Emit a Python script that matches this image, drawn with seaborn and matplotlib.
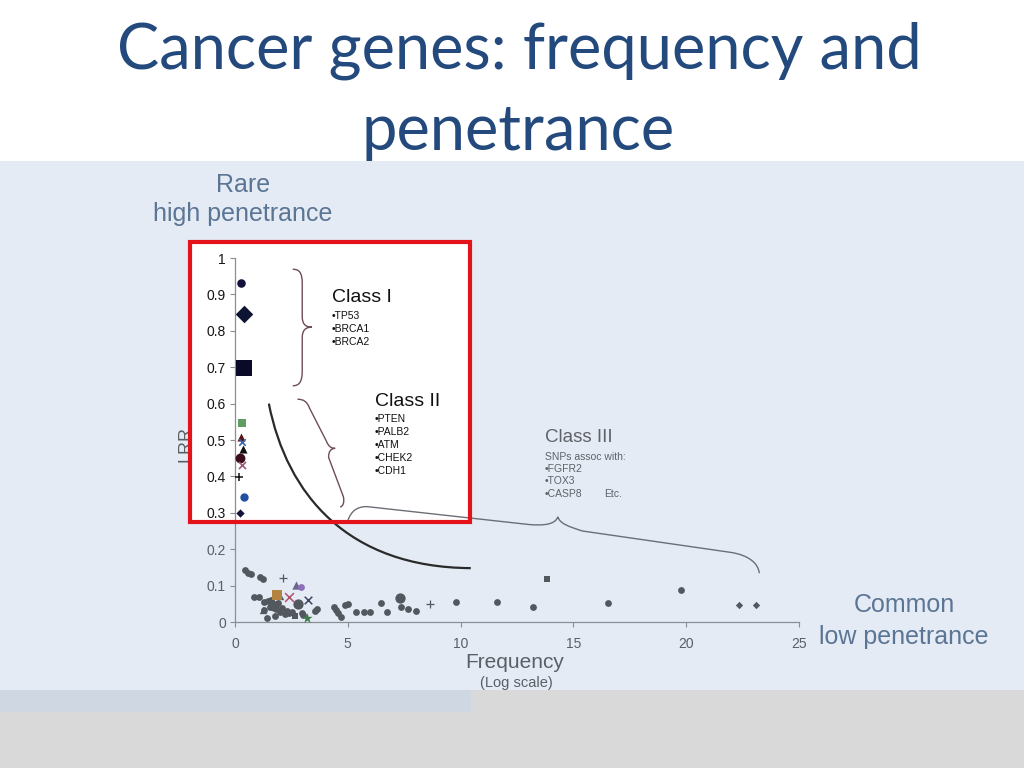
import numpy as np
import pandas as pd
import matplotlib
matplotlib.use('Agg')
import matplotlib.pyplot as plt
import seaborn as sns
from matplotlib.patches import Rectangle, PathPatch
from matplotlib.path import Path

sns.set_style("ticks")
plt.rcParams['font.family'] = ['Liberation Sans', 'DejaVu Sans']

# rare, high penetrance genes (frequency, LRR, marker kind)
rare_freq = [0.27, 0.41, 0.41, 0.30, 0.27, 0.33, 0.35, 0.24, 0.30, 0.18, 0.40, 0.22]
rare_lrr = [0.930, 0.846, 0.699, 0.546, 0.509, 0.494, 0.474, 0.450, 0.431, 0.397, 0.343, 0.300]
rare_kind = ['navy_circle', 'navy_diamond', 'navy_square', 'green_square', 'red_triangle',
             'blue_x', 'black_triangle', 'maroon_circle', 'mauve_x', 'black_plus',
             'blue_circle', 'navy_small_diamond']

# common, low penetrance SNPs
common_freq = [0.44, 0.59, 0.70, 1.11, 1.26, 0.86, 1.07, 1.27, 1.45, 1.63, 1.54, 1.27,
               1.41, 1.78, 1.99, 2.22, 2.30, 2.53, 2.95, 3.55, 3.63, 2.08, 1.90, 1.60,
               1.80, 2.40, 3.00, 4.41, 4.46, 4.55, 4.69, 4.88, 4.99, 5.36, 5.74, 6.00,
               6.48, 6.73, 7.36, 7.69, 8.02, 9.81, 11.62, 13.21, 16.54, 19.78,
               1.72, 2.78, 7.30,
               22.34, 23.08,
               13.81, 2.66,
               2.12, 8.66,
               1.26, 1.99,
               2.71, 2.92, 1.88, 2.41, 3.23, 3.21]
common_lrr = [0.143, 0.134, 0.133, 0.124, 0.117, 0.070, 0.070, 0.055, 0.057, 0.053, 0.042, 0.033,
              0.012, 0.016, 0.027, 0.021, 0.030, 0.027, 0.024, 0.030, 0.035, 0.039, 0.053, 0.060,
              0.035, 0.025, 0.020, 0.040, 0.034, 0.025, 0.015, 0.047, 0.050, 0.027, 0.027, 0.027,
              0.051, 0.027, 0.040, 0.036, 0.031, 0.056, 0.056, 0.042, 0.052, 0.087,
              0.044, 0.049, 0.065,
              0.046, 0.046,
              0.119, 0.016,
              0.122, 0.049,
              0.033, 0.071,
              0.102, 0.097, 0.074, 0.068, 0.060, 0.010]
common_kind = (['gray_circle'] * 46 + ['gray_big_circle'] * 3 + ['gray_diamond'] * 2 +
               ['gray_square'] * 2 + ['gray_plus'] * 2 + ['gray_triangle'] * 2 +
               ['purple_triangle', 'purple_circle', 'orange_square', 'red_x', 'dark_x', 'green_star'])

x_ticks = [0, 5, 10, 15, 20, 25]
y_ticks = [0, 0.1, 0.2, 0.3, 0.4, 0.5, 0.6, 0.7, 0.8, 0.9, 1.0]
y_tick_labels = ['0', '0.1', '0.2', '0.3', '0.4', '0.5', '0.6', '0.7', '0.8', '0.9', '1']

GRAY = '#53585f'
styles = {
    'navy_circle': dict(marker='o', s=38, color='#12123a', lw=0),
    'navy_diamond': dict(marker='D', s=80, color='#0d1433', lw=0),
    'navy_square': dict(marker='s', s=120, color='#0a0a28', lw=0),
    'green_square': dict(marker='s', s=30, color='#5e9e62', lw=0),
    'red_triangle': dict(marker='^', s=34, color='#5a1414', lw=0),
    'blue_x': dict(marker='x', s=22, color='#3a66a8', lw=1.2),
    'black_triangle': dict(marker='^', s=34, color='#111111', lw=0),
    'maroon_circle': dict(marker='o', s=50, color='#3a0c1c', lw=0),
    'mauve_x': dict(marker='x', s=26, color='#a05a7a', lw=1.2),
    'black_plus': dict(marker='+', s=34, color='#111111', lw=1.1),
    'blue_circle': dict(marker='o', s=36, color='#2050a0', lw=0),
    'navy_small_diamond': dict(marker='D', s=18, color='#12123a', lw=0),
    'gray_circle': dict(marker='o', s=24, color=GRAY, lw=0),
    'gray_big_circle': dict(marker='o', s=55, color=GRAY, lw=0),
    'gray_diamond': dict(marker='D', s=14, color=GRAY, lw=0),
    'gray_square': dict(marker='s', s=22, color=GRAY, lw=0),
    'gray_plus': dict(marker='+', s=40, color=GRAY, lw=0.9),
    'gray_triangle': dict(marker='^', s=28, color=GRAY, lw=0),
    'purple_triangle': dict(marker='^', s=36, color='#6f6592', lw=0),
    'purple_circle': dict(marker='o', s=24, color='#8c6fb8', lw=0),
    'orange_square': dict(marker='s', s=42, color='#b3843f', lw=0),
    'red_x': dict(marker='x', s=40, color='#b0506a', lw=1.1),
    'dark_x': dict(marker='x', s=30, color='#3d4560', lw=1.1),
    'green_star': dict(marker='*', s=60, color='#3d7a4a', lw=0),
}

W, H = 1024, 768


def fx(px):
    return px / W


def fy(py):
    return 1 - py / H


fig = plt.figure(figsize=(10.24, 7.68), dpi=100, facecolor='white')

# slide background bands
fig.add_artist(Rectangle((0, fy(690)), 1, fy(161) - fy(690), transform=fig.transFigure,
                         facecolor='#e4ebf5', edgecolor='none', zorder=-6))
fig.add_artist(Rectangle((0, 0), 1, fy(690), transform=fig.transFigure,
                         facecolor='#d9d9d9', edgecolor='none', zorder=-6))
fig.add_artist(Rectangle((0, fy(712)), fx(471), fy(690) - fy(712), transform=fig.transFigure,
                         facecolor='#cfd8e2', edgecolor='none', zorder=-5))
# highlight box fill
fig.add_artist(Rectangle((fx(190), fy(522)), fx(470) - fx(190), fy(242) - fy(522),
                         transform=fig.transFigure, facecolor='white', edgecolor='none', zorder=-4))

ax = fig.add_axes([fx(235), fy(622), fx(799) - fx(235), fy(258) - fy(622)])
ax.patch.set_visible(False)

for df in (pd.DataFrame({'freq': rare_freq, 'lrr': rare_lrr, 'kind': rare_kind}),
           pd.DataFrame({'freq': common_freq, 'lrr': common_lrr, 'kind': common_kind})):
    for kind, grp in df.groupby('kind', sort=False):
        st = styles[kind]
        sns.scatterplot(data=grp, x='freq', y='lrr', marker=st['marker'], s=st['s'],
                        color=st['color'], edgecolor=st['color'], linewidth=st['lw'],
                        ax=ax, zorder=4, clip_on=False, legend=False)

ax.set_xlim(0, 25)
ax.set_ylim(0, 1)
ax.set_xticks(x_ticks)
ax.set_xticklabels([str(t) for t in x_ticks])
ax.set_yticks(y_ticks)
ax.set_yticklabels(y_tick_labels)
ax.set_xlabel('')
ax.set_ylabel('')
sns.despine(ax=ax)
for side in ('left', 'bottom'):
    ax.spines[side].set_color('#8a8f96')
    ax.spines[side].set_linewidth(0.9)
ax.tick_params(axis='both', direction='out', length=3.5, width=0.8, color='#8a8f96', labelsize=10)
ax.tick_params(axis='x', pad=7, labelcolor='#5a5f66')
ax.tick_params(axis='y', pad=3)
for lbl, v in zip(ax.get_yticklabels(), y_ticks):
    lbl.set_color('#151515' if v >= 0.3 else '#5a5f66')

# penetrance curve
curve = Path([(1.5, 0.60), (2.3, 0.35), (5.0, 0.15), (10.45, 0.148)],
             [Path.MOVETO, Path.CURVE4, Path.CURVE4, Path.CURVE4])
ax.add_patch(PathPatch(curve, fill=False, edgecolor='#2a2a2a', lw=1.6, zorder=3, clip_on=False))

# braces
brace1 = Path([(2.56, 0.969), (2.85, 0.969), (2.98, 0.96), (2.98, 0.93),
               (2.98, 0.84),
               (2.98, 0.82), (3.10, 0.81), (3.41, 0.81),
               (3.10, 0.81), (2.98, 0.80), (2.98, 0.78),
               (2.98, 0.69),
               (2.98, 0.66), (2.85, 0.649), (2.56, 0.649)],
              [Path.MOVETO, Path.CURVE4, Path.CURVE4, Path.CURVE4,
               Path.LINETO,
               Path.CURVE4, Path.CURVE4, Path.CURVE4,
               Path.CURVE4, Path.CURVE4, Path.CURVE4,
               Path.LINETO,
               Path.CURVE4, Path.CURVE4, Path.CURVE4])
brace2 = Path([(2.77, 0.612), (3.05, 0.612), (3.20, 0.605), (3.30, 0.588),
               (4.05, 0.497),
               (4.14, 0.483), (4.25, 0.477), (4.44, 0.477),
               (4.25, 0.477), (4.14, 0.468), (4.15, 0.452),
               (4.80, 0.345),
               (4.86, 0.330), (4.80, 0.318), (4.66, 0.316)],
              [Path.MOVETO, Path.CURVE4, Path.CURVE4, Path.CURVE4,
               Path.LINETO,
               Path.CURVE4, Path.CURVE4, Path.CURVE4,
               Path.CURVE4, Path.CURVE4, Path.CURVE4,
               Path.LINETO,
               Path.CURVE4, Path.CURVE4, Path.CURVE4])
brace3 = Path([(5.0, 0.278), (5.15, 0.305), (5.40, 0.317), (5.85, 0.317),
               (13.0, 0.268),
               (13.7, 0.264), (14.2, 0.268), (14.31, 0.289),
               (14.40, 0.270), (14.80, 0.262), (15.40, 0.250),
               (22.0, 0.191),
               (22.8, 0.183), (23.2, 0.160), (23.24, 0.134)],
              [Path.MOVETO, Path.CURVE4, Path.CURVE4, Path.CURVE4,
               Path.LINETO,
               Path.CURVE4, Path.CURVE4, Path.CURVE4,
               Path.CURVE4, Path.CURVE4, Path.CURVE4,
               Path.LINETO,
               Path.CURVE4, Path.CURVE4, Path.CURVE4])
for p, c in ((brace1, '#6e4d55'), (brace2, '#6e4d55'), (brace3, '#6b6f75')):
    ax.add_patch(PathPatch(p, fill=False, edgecolor=c, lw=1.0, zorder=3, clip_on=False))

# red highlight frame
fig.add_artist(Rectangle((fx(190), fy(522)), fx(470) - fx(190), fy(242) - fy(522),
                         transform=fig.transFigure, facecolor='none', edgecolor='#e3121b',
                         lw=3, zorder=6))

# texts
fig.text(fx(519), fy(68), 'Cancer genes: frequency and', ha='center', va='baseline',
         fontsize=45.5, color='#23497d', family=['Lato', 'DejaVu Sans'])
fig.text(fx(518), fy(150), 'penetrance', ha='center', va='baseline',
         fontsize=45.5, color='#23497d', family=['Lato', 'DejaVu Sans'])

side_col = '#5b7594'
fig.text(fx(243), fy(185), 'Rare', ha='center', va='center', fontsize=18, color=side_col)
fig.text(fx(243), fy(214), 'high penetrance', ha='center', va='center', fontsize=18, color=side_col)
fig.text(fx(904), fy(605), 'Common', ha='center', va='center', fontsize=18, color=side_col)
fig.text(fx(904), fy(637), 'low penetrance', ha='center', va='center', fontsize=18, color=side_col)

fig.text(fx(186), fy(444), 'LRR', rotation=90, ha='center', va='center', fontsize=13,
         color='#5a5f66', zorder=1)
fig.text(fx(515), fy(662), 'Frequency', ha='center', va='center', fontsize=15, color='#5a5f66')
fig.text(fx(516), fy(683), '(Log scale)', ha='center', va='center', fontsize=10.5, color='#5a5f66')

fig.text(fx(332), fy(298), 'Class I', ha='left', va='center', fontsize=14, color='#111111')
for i, g in enumerate(['TP53', 'BRCA1', 'BRCA2']):
    fig.text(fx(332), fy(316 + 12.8 * i), '\u2022' + g, ha='left', va='center', fontsize=7.5, color='#111111')

fig.text(fx(375), fy(402), 'Class II', ha='left', va='center', fontsize=14, color='#111111')
for i, g in enumerate(['PTEN', 'PALB2', 'ATM', 'CHEK2', 'CDH1']):
    fig.text(fx(375), fy(419 + 12.9 * i), '\u2022' + g, ha='left', va='center', fontsize=7.5, color='#111111')

fig.text(fx(545), fy(438), 'Class III', ha='left', va='center', fontsize=13.5, color='#5f6368')
fig.text(fx(545), fy(456.5), 'SNPs assoc with:', ha='left', va='center', fontsize=7.5, color='#5f6368')
for i, g in enumerate(['FGFR2', 'TOX3', 'CASP8']):
    fig.text(fx(545), fy(469 + 12.5 * i), '\u2022' + g, ha='left', va='center', fontsize=7.5, color='#5f6368')
fig.text(fx(604), fy(494), 'Etc.', ha='left', va='center', fontsize=7.5, color='#5f6368')

fig.savefig('out.png', dpi=100, facecolor=fig.get_facecolor())
